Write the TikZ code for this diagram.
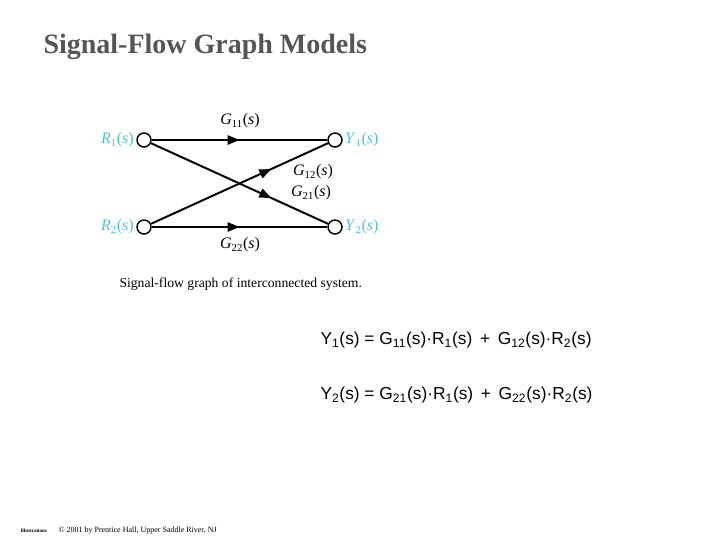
\documentclass[tikz,border=0pt]{standalone}
\usepackage{fontspec}
\setmainfont{Liberation Serif}
\setsansfont{Liberation Sans}
\usetikzlibrary{arrows.meta,decorations.markings}

\definecolor{labelcyan}{RGB}{72,196,220}
\definecolor{titlegray}{RGB}{85,85,85}

\tikzset{every picture/.style={line width=0.75pt}}
\tikzset{
  sfnode/.style={circle,draw,line width=1.1pt,minimum size=10.5pt,inner sep=0pt,fill=white},
  branch/.style={line width=1.5pt,postaction={decorate},
    decoration={markings,mark=at position #1 with {\arrow{Triangle[length=9pt,width=7pt]}}}},
  sigtext/.style={text=labelcyan,font=\fontsize{12}{14}\selectfont},
  gaintext/.style={font=\fontsize{12}{14}\selectfont},
}
\newcommand{\sig}[2]{\textit{#1}\textsubscript{#2}(\textit{s})}

\begin{document}
\begin{tikzpicture}[x=0.75pt,y=0.75pt,yscale=-1,xscale=1]
\useasboundingbox (0,0) rectangle (720,540);

% Title
\node (title) [anchor=west,inner sep=0pt,text=titlegray] at (43,47) {\fontsize{21}{24}\selectfont\bfseries Signal-Flow Graph Models};

%Shape: Circle
\node (r1) [sfnode] at (144,140) {};
\node (y1) [sfnode] at (335,140) {};
\node (r2) [sfnode] at (144,227) {};
\node (y2) [sfnode] at (335,227) {};

%Straight Lines
\draw [branch=0.5] (r1) -- (y1);
\draw [branch=0.5] (r2) -- (y2);
\draw [branch=0.68] (r2) -- (y1);
\draw [branch=0.68] (r1) -- (y2);

% Text Node
\node (r1lab) [sigtext,anchor=east,inner sep=1.5pt] at (r1.west) {\sig{R}{1}};
\node (y1lab) [sigtext,anchor=west,inner sep=1.5pt] at (y1.east) {\sig{Y}{1}};
\node (r2lab) [sigtext,anchor=east,inner sep=1.5pt] at (r2.west) {\sig{R}{2}};
\node (y2lab) [sigtext,anchor=west,inner sep=1.5pt] at (y2.east) {\sig{Y}{2}};
% Text Node
\node (g11) [gaintext] at (240,121) {\sig{G}{11}};
\node (g12) [gaintext] at (313,172) {\sig{G}{12}};
\node (g21) [gaintext] at (311,193) {\sig{G}{21}};
\node (g22) [gaintext] at (240,245) {\sig{G}{22}};

% Caption
\node (caption) [anchor=west,inner sep=0pt] at (119,284) {\fontsize{10.25}{12}\selectfont Signal-flow graph of interconnected system.};

% Equations
\node (eqone) [anchor=west,inner sep=0pt] at (320,340) {\sffamily\fontsize{13}{15}\selectfont Y\textsubscript{1}(s) = G\textsubscript{11}(s)·R\textsubscript{1}(s) \,+\, G\textsubscript{12}(s)·R\textsubscript{2}(s)};
\node (eqtwo) [anchor=west,inner sep=0pt] at (320,395) {\sffamily\fontsize{13}{15}\selectfont Y\textsubscript{2}(s) = G\textsubscript{21}(s)·R\textsubscript{1}(s) \,+\, G\textsubscript{22}(s)·R\textsubscript{2}(s)};

% Footer
\node (illus) [anchor=west,inner sep=0pt] at (20,531) {\fontsize{3.8}{5}\selectfont\bfseries Illustrations};
\node (copy) [anchor=west,inner sep=0pt] at (58,531) {\fontsize{6}{7}\selectfont © 2001 by Prentice Hall, Upper Saddle River, NJ};

\end{tikzpicture}
\end{document}
